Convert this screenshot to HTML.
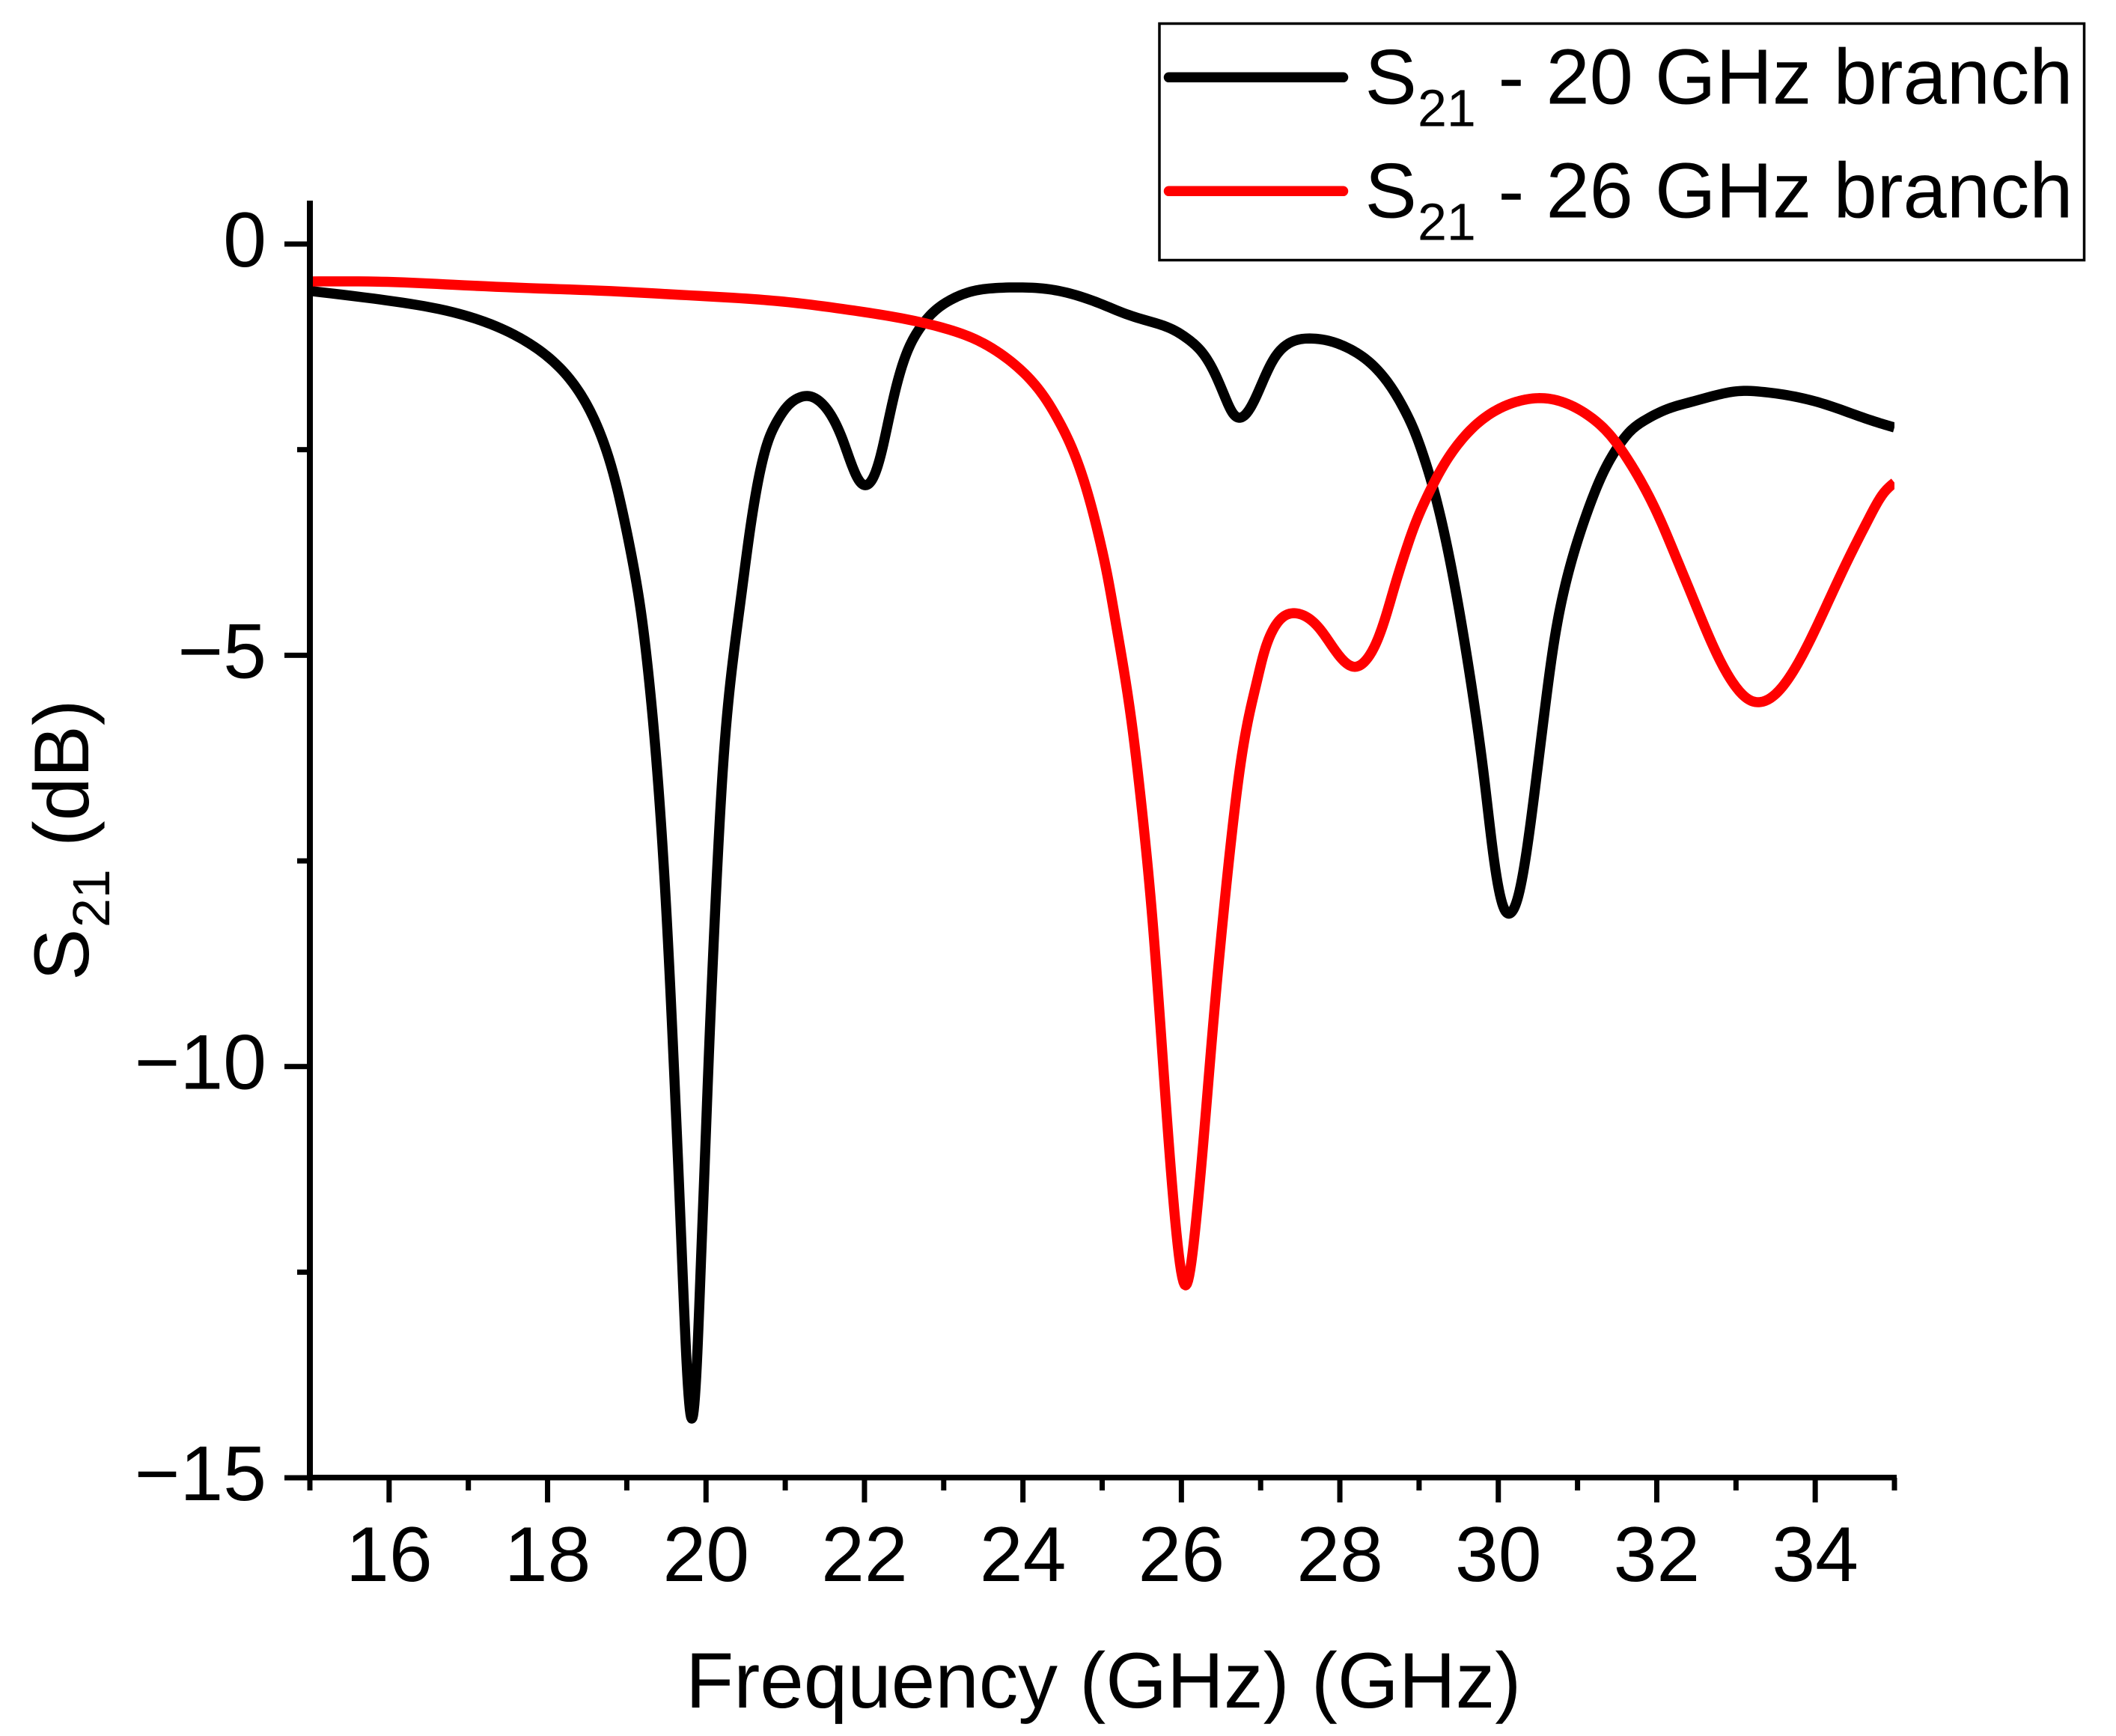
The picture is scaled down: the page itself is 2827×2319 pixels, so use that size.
<!DOCTYPE html>
<html lang="en">
<head>
<meta charset="utf-8">
<title>S21 vs Frequency</title>
<style>
  html, body { margin: 0; padding: 0; background: #fff; }
  svg { display: block; }
  text { font-family: "Liberation Sans", Arial, sans-serif; fill: #000; text-rendering: geometricPrecision; }
</style>
</head>
<body>
<svg id="chart" xmlns="http://www.w3.org/2000/svg" width="2827" height="2319" viewBox="0 0 2827 2319">
  <defs>
    <clipPath id="plot-clip"><rect x="414" y="268" width="2117" height="1710"></rect></clipPath>
  </defs>
  <rect x="0" y="0" width="2827" height="2319" fill="#fff"></rect>
  <g id="series-layer" clip-path="url(#plot-clip)"></g>
  <g id="axis-layer"></g>

  <text x="916" y="2281" font-size="105.2">Frequency (GHz) (GHz)</text>

  <g>
    <text transform="translate(118 1310) rotate(-90)" font-size="104">S</text>
    <text transform="translate(146 1239) rotate(-90)" font-size="70">21</text>
    <text transform="translate(118 1131) rotate(-90)" font-size="104">(dB)</text>
  </g>

  <g>
    <rect x="1549" y="31.5" width="1235.5" height="316" fill="#fff" stroke="#000" stroke-width="3.5"></rect>
    <g>
      <line x1="1561.5" y1="103.3" x2="1794.5" y2="103.3" stroke="#000" stroke-width="13.5" stroke-linecap="round"></line>
      <text x="1823.5" y="138.5" font-size="104">S</text>
      <text x="1894" y="168.3" font-size="70">21</text>
      <text x="2001.5" y="138.5" font-size="104.7">- 20 GHz branch</text>
    </g>
    <g>
      <line x1="1561.5" y1="255.3" x2="1794.5" y2="255.3" stroke="#ff0000" stroke-width="13.5" stroke-linecap="round"></line>
      <text x="1823.5" y="290.5" font-size="104">S</text>
      <text x="1894" y="320.3" font-size="70">21</text>
      <text x="2001.5" y="290.5" font-size="104.7">- 26 GHz branch</text>
    </g>
  </g>
</svg>

<script>
const blackFreq = [15,16.08,16.81,17.35,17.82,18.15,18.40,18.62,18.86,19.0,19.1,19.19,19.27,19.385,19.47,19.537,19.595,19.649,19.70,19.755,19.82,19.885,19.935,19.983,20.03,20.082,20.14,20.21,20.32,20.44,20.549,20.66,20.768,20.894,21.02,21.169,21.304,21.443,21.59,21.717,21.822,21.928,22.025,22.12,22.215,22.307,22.413,22.539,22.687,22.856,23.067,23.32,23.657,23.994,24.332,24.627,24.965,25.3,25.597,25.892,26.103,26.272,26.42,26.546,26.652,26.748,26.865,26.96,27.055,27.165,27.307,27.464,27.669,27.874,28.094,28.315,28.503,28.661,28.818,28.944,29.07,29.165,29.291,29.386,29.48,29.574,29.669,29.83,29.934,30.05,30.16,30.254,30.37,30.466,30.582,30.697,30.832,30.987,31.141,31.314,31.507,31.661,31.854,32.124,32.433,32.741,33.011,33.358,33.744,34.13,34.515,34.824,35];
const blackDb = [-0.57,-0.70,-0.83,-1.00,-1.24,-1.50,-1.80,-2.20,-2.90,-3.50,-4.00,-4.55,-5.20,-6.42,-7.62,-8.81,-10.01,-11.20,-12.40,-13.60,-14.28,-13.60,-12.40,-11.20,-10.01,-8.81,-7.62,-6.42,-5.22,-4.31,-3.52,-2.87,-2.44,-2.16,-1.98,-1.87,-1.85,-1.92,-2.10,-2.36,-2.64,-2.87,-2.93,-2.82,-2.53,-2.13,-1.69,-1.31,-1.04,-0.84,-0.69,-0.585,-0.535,-0.528,-0.55,-0.61,-0.72,-0.85,-0.94,-1.04,-1.17,-1.33,-1.57,-1.85,-2.06,-2.11,-2.00,-1.82,-1.61,-1.40,-1.24,-1.165,-1.15,-1.18,-1.26,-1.39,-1.56,-1.76,-2.02,-2.28,-2.62,-2.92,-3.40,-3.83,-4.31,-4.84,-5.42,-6.56,-7.40,-8.02,-8.13,-7.92,-7.30,-6.60,-5.70,-4.88,-4.20,-3.65,-3.21,-2.80,-2.47,-2.28,-2.14,-2.01,-1.92,-1.84,-1.79,-1.80,-1.855,-1.95,-2.08,-2.18,-2.23];

const redFreq = [15,15.98,16.81,17.89,18.62,19.34,20.0,20.67,21.169,21.801,22.307,22.729,23.067,23.404,23.741,23.994,24.248,24.458,24.669,24.838,24.965,25.07,25.175,25.37,25.521,25.638,25.735,25.827,25.937,26.056,26.17,26.292,26.40,26.52,26.645,26.75,26.85,26.95,27.04,27.14,27.275,27.449,27.606,27.748,27.889,28.031,28.189,28.346,28.472,28.582,28.692,28.818,28.944,29.102,29.291,29.511,29.763,30.015,30.298,30.582,30.865,31.16,31.4,31.661,31.854,32.047,32.24,32.433,32.626,32.818,33.011,33.185,33.289,33.436,33.628,33.821,34.014,34.207,34.438,34.67,34.862,35];
const redDb = [-0.455,-0.46,-0.495,-0.54,-0.565,-0.60,-0.635,-0.675,-0.72,-0.80,-0.875,-0.955,-1.04,-1.16,-1.35,-1.55,-1.83,-2.16,-2.60,-3.10,-3.58,-4.05,-4.62,-5.80,-7.05,-8.25,-9.50,-10.75,-12.02,-12.66,-12.02,-10.75,-9.50,-8.25,-7.10,-6.30,-5.75,-5.33,-4.98,-4.72,-4.54,-4.49,-4.55,-4.68,-4.87,-5.05,-5.14,-5.04,-4.82,-4.52,-4.16,-3.77,-3.42,-3.07,-2.72,-2.41,-2.16,-2.00,-1.90,-1.875,-1.94,-2.10,-2.31,-2.66,-2.98,-3.36,-3.80,-4.25,-4.70,-5.10,-5.40,-5.55,-5.57,-5.52,-5.33,-5.03,-4.66,-4.26,-3.79,-3.35,-3.03,-2.90];

const xMajorTicks = [16,18,20,22,24,26,28,30,32,34];
const xMinorTicks = [15,17,19,21,23,25,27,29,31,33,35];
const yMajorTicks = [0,-5,-10,-15];
const yMinorTicks = [-2.5,-7.5,-12.5];
const xTickLabels = ['16','18','20','22','24','26','28','30','32','34'];
const yTickLabels = ['0','\u22125','\u221210','\u221215'];

const SVG_NS = 'http://www.w3.org/2000/svg';
function xScale(v) { return 414 + (v - 15) * 105.85; }
function yScale(v) { return 326 - v * 109.87; }

/* Natural cubic spline through the data, sampled into a smooth polyline. */
function linePath(xs, ys) {
  const n = xs.length;
  const h = [];
  for (let i = 0; i < n - 1; i++) h.push(xs[i + 1] - xs[i]);
  const m = new Array(n).fill(0);
  const c = new Array(n).fill(0);
  const d = new Array(n).fill(0);
  for (let i = 1; i < n - 1; i++) {
    const b = 2 * (h[i - 1] + h[i]) - h[i - 1] * c[i - 1];
    const r = 6 * ((ys[i + 1] - ys[i]) / h[i] - (ys[i] - ys[i - 1]) / h[i - 1]);
    c[i] = h[i] / b;
    d[i] = (r - h[i - 1] * d[i - 1]) / b;
  }
  for (let i = n - 2; i > 0; i--) m[i] = d[i] - c[i] * m[i + 1];
  let path = 'M' + xScale(xs[0]).toFixed(2) + ' ' + yScale(ys[0]).toFixed(2);
  for (let i = 0; i < n - 1; i++) {
    for (let s = 1; s <= 8; s++) {
      const t = s / 8;
      const a = 1 - t;
      const v = a * ys[i] + t * ys[i + 1] +
        ((a * a * a - a) * m[i] + (t * t * t - t) * m[i + 1]) * h[i] * h[i] / 6;
      path += 'L' + xScale(xs[i] + t * h[i]).toFixed(2) + ' ' + yScale(v).toFixed(2);
    }
  }
  return path;
}

const seriesLayer = document.getElementById('series-layer');
const axisLayer = document.getElementById('axis-layer');

const blackLine = document.createElementNS(SVG_NS, 'path');


blackLine.setAttribute('d', linePath(blackFreq, blackDb));
blackLine.setAttribute('fill', 'none');
blackLine.setAttribute('stroke', '#000');
blackLine.setAttribute('stroke-width', '13.5');
blackLine.setAttribute('stroke-linejoin', 'round');
seriesLayer.appendChild(blackLine);

const redLine = document.createElementNS(SVG_NS, 'path');


redLine.setAttribute('d', linePath(redFreq, redDb));
redLine.setAttribute('fill', 'none');
redLine.setAttribute('stroke', '#ff0000');
redLine.setAttribute('stroke-width', '13.5');
redLine.setAttribute('stroke-linejoin', 'round');
seriesLayer.appendChild(redLine);

const yAxisLine = document.createElementNS(SVG_NS, 'rect');


yAxisLine.setAttribute('x', '410');
yAxisLine.setAttribute('y', '268');
yAxisLine.setAttribute('width', '8');
yAxisLine.setAttribute('height', '1706');
axisLayer.appendChild(yAxisLine);

const xAxisLine = document.createElementNS(SVG_NS, 'rect');


xAxisLine.setAttribute('x', '410');
xAxisLine.setAttribute('y', '1970');
xAxisLine.setAttribute('width', '2124');
xAxisLine.setAttribute('height', '7.5');
axisLayer.appendChild(xAxisLine);

xMajorTicks.forEach(function (v, i) {
  const tick = document.createElementNS(SVG_NS, 'rect');
  
  
  tick.setAttribute('x', (xScale(v) - 3.5).toFixed(2));
  tick.setAttribute('y', '1974');
  tick.setAttribute('width', '7');
  tick.setAttribute('height', '33');
  axisLayer.appendChild(tick);

  const label = document.createElementNS(SVG_NS, 'text');
  
  
  label.setAttribute('x', xScale(v).toFixed(2));
  label.setAttribute('y', '2112');
  label.setAttribute('font-size', '104');
  label.setAttribute('text-anchor', 'middle');
  label.textContent = xTickLabels[i];
  axisLayer.appendChild(label);
});

xMinorTicks.forEach(function (v) {
  const tick = document.createElementNS(SVG_NS, 'rect');
  
  
  tick.setAttribute('x', (xScale(v) - 3.5).toFixed(2));
  tick.setAttribute('y', '1974');
  tick.setAttribute('width', '7');
  tick.setAttribute('height', '17');
  axisLayer.appendChild(tick);
});

yMajorTicks.forEach(function (v, i) {
  const tick = document.createElementNS(SVG_NS, 'rect');
  
  
  tick.setAttribute('x', '380');
  tick.setAttribute('y', (yScale(v) - 3.5).toFixed(2));
  tick.setAttribute('width', '34');
  tick.setAttribute('height', '7');
  axisLayer.appendChild(tick);

  const label = document.createElementNS(SVG_NS, 'text');
  
  
  label.setAttribute('x', '356');
  label.setAttribute('y', (yScale(v) + 30).toFixed(2));
  label.setAttribute('font-size', '104');
  label.setAttribute('text-anchor', 'end');
  label.textContent = yTickLabels[i];
  axisLayer.appendChild(label);
});

yMinorTicks.forEach(function (v) {
  const tick = document.createElementNS(SVG_NS, 'rect');
  
  
  tick.setAttribute('x', '397');
  tick.setAttribute('y', (yScale(v) - 3.5).toFixed(2));
  tick.setAttribute('width', '17');
  tick.setAttribute('height', '7');
  axisLayer.appendChild(tick);
});
</script>
</body>
</html>
